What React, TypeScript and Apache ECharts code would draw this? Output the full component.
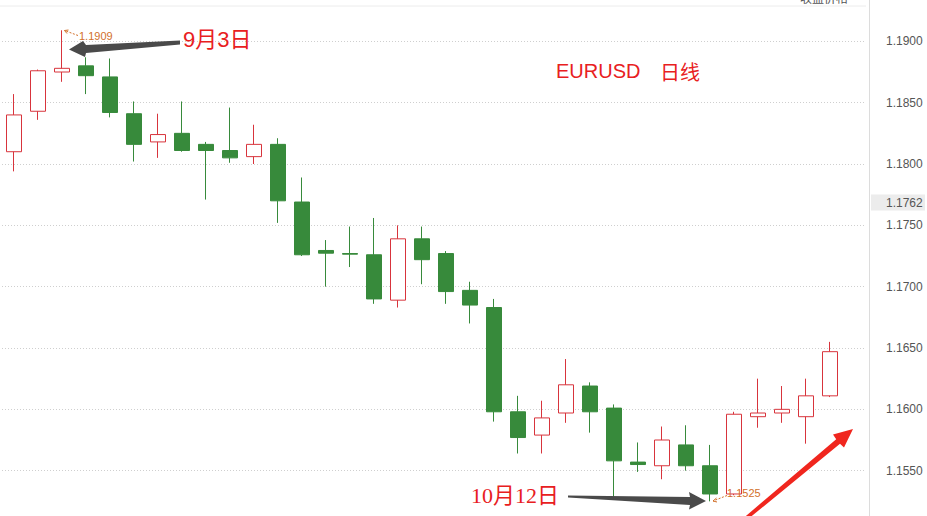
import React, { useEffect, useRef } from "react";
import * as echarts from "echarts";

const dates = [
  "2021-09-01", "2021-09-02", "2021-09-03", "2021-09-06", "2021-09-07", "2021-09-08", "2021-09-09",
  "2021-09-10", "2021-09-13", "2021-09-14", "2021-09-15", "2021-09-16", "2021-09-17", "2021-09-20",
  "2021-09-21", "2021-09-22", "2021-09-23", "2021-09-24", "2021-09-27", "2021-09-28", "2021-09-29",
  "2021-09-30", "2021-10-01", "2021-10-04", "2021-10-05", "2021-10-06", "2021-10-07", "2021-10-08",
  "2021-10-11", "2021-10-12", "2021-10-13", "2021-10-14", "2021-10-15", "2021-10-18", "2021-10-19",
  "2021-10-20",
];
const opens = [
  1.1810, 1.1843, 1.1875, 1.1880, 1.1871, 1.1841, 1.1818, 1.1825, 1.1816, 1.1811, 1.1806, 1.1816,
  1.1769, 1.17295, 1.1727, 1.1726, 1.1689, 1.1739, 1.1727, 1.1697, 1.1683, 1.1598, 1.1579, 1.1597,
  1.1619, 1.1601, 1.1557, 1.1554, 1.1571, 1.1554, 1.1531, 1.1594, 1.1597, 1.1594, 1.1611,
];
const closes = [
  1.1840, 1.1876, 1.1878, 1.1872, 1.1842, 1.1816, 1.1824, 1.1811, 1.1811, 1.1805, 1.1816, 1.1770,
  1.1726, 1.17273, 1.17265, 1.1690, 1.1739, 1.1722, 1.1696, 1.1685, 1.1598, 1.1577, 1.1593, 1.1620,
  1.1598, 1.1558, 1.1555, 1.1575, 1.1554, 1.1531, 1.1596, 1.1597, 1.1600, 1.1611, 1.1647,
];
const lows = [
  1.1794, 1.1836, 1.1867, 1.1857, 1.1838, 1.1802, 1.1805, 1.1810, 1.1771, 1.1801, 1.1800, 1.1752,
  1.1725, 1.1700, 1.1716, 1.1686, 1.1683, 1.1702, 1.1686, 1.1670, 1.1590, 1.1564, 1.1564, 1.1589,
  1.1581, 1.1528, 1.1549, 1.1543, 1.1550, 1.1525, 1.1530, 1.1585, 1.1589, 1.1572, 1.1610,
];
const highs = [
  1.1857, 1.1877, 1.1909, 1.1887, 1.1886, 1.1851, 1.1841, 1.1851, 1.1818, 1.1846, 1.1832, 1.1821,
  1.1789, 1.1738, 1.1749, 1.1756, 1.1750, 1.1749, 1.1729, 1.1704, 1.1690, 1.1611, 1.1607, 1.1641,
  1.1622, 1.1604, 1.1573, 1.1586, 1.1587, 1.1571, 1.1598, 1.1625, 1.1619, 1.1625, 1.1655,
];
const currentPrice = 1.1762;
const yMin = 1.15;
const yMax = 1.195;
const yStep = 0.005;

const RED = "#d8343c";
const GREEN = "#378a3b";
const ORANGE = "#d2702a";
const ANN_RED = "#e8201e";
const SHIFT = 20; // chart div is shifted up by this many px

export default function App() {
  const ref = useRef<HTMLDivElement>(null);

  useEffect(() => {
    if (!ref.current) return;
    const chart = echarts.init(ref.current, null, { renderer: "svg" });
    const data: any[] = dates.map((d, i) =>
      i < opens.length ? [opens[i], closes[i], lows[i], highs[i]] : "-"
    );
    const annotations: any[] = [
      {
        type: "line",
        shape: { x1: 0, y1: 6, x2: 866, y2: 6 },
        style: { stroke: "#ececec", lineWidth: 1 },
        silent: true,
      },
      {
        type: "text",
        style: { text: "收盘价格", x: 800, y: -9, fill: "#555", fontSize: 12, fontFamily: "Noto Sans CJK SC" },
      },
      {
        type: "text",
        style: {
          text: "EURUSD", x: 556, y: 71, fill: ANN_RED, fontSize: 20,
          fontFamily: "Liberation Sans, Arial, sans-serif", textVerticalAlign: "middle",
        },
      },
      {
        type: "text",
        style: {
          text: "日线", x: 660, y: 71, fill: ANN_RED, fontSize: 20,
          fontFamily: "Noto Sans CJK SC", textVerticalAlign: "middle",
        },
      },
      {
        type: "text",
        style: {
          text: "9月3日", x: 183, y: 39, fill: ANN_RED, fontSize: 22,
          fontFamily: "Liberation Sans, Noto Sans CJK SC, sans-serif", textVerticalAlign: "middle",
        },
      },
      {
        type: "text",
        style: {
          text: "10月12日", x: 471, y: 495, fill: ANN_RED, fontSize: 22,
          fontFamily: "Liberation Serif, Noto Sans CJK SC, serif", textVerticalAlign: "middle",
        },
      },
      {
        type: "polygon",
        shape: { points: [[180, 40.5], [86, 45], [83, 41], [69, 49.5], [85, 57], [86, 53], [180, 44.5]] },
        style: { fill: "#4a4a4a" },
      },
      {
        type: "polygon",
        shape: { points: [[568, 495.5], [690, 497], [689, 492], [706, 501], [689, 509.5], [690, 505], [568, 497.5]] },
        style: { fill: "#4a4a4a" },
      },
      {
        type: "polygon",
        shape: { points: [[740, 521], [836.2, 439.2], [833, 434.5], [853, 429], [844, 447.5], [840, 443.8], [742, 524]] },
        style: { fill: "#f0261e" },
      },
      {
        type: "polyline",
        shape: { points: [[78, 35.5], [64.5, 30.5]] },
        style: { stroke: ORANGE, lineWidth: 1, lineDash: [2, 1.5], fill: null },
      },
      {
        type: "polyline",
        shape: { points: [[68.5, 30], [64.5, 30.5], [67, 33.5]] },
        style: { stroke: ORANGE, lineWidth: 1, fill: null },
      },
      {
        type: "text",
        style: {
          text: "1.1909", x: 79, y: 36, fill: ORANGE, fontSize: 11,
          fontFamily: "Liberation Sans, Arial, sans-serif", textVerticalAlign: "middle",
        },
      },
      {
        type: "polyline",
        shape: { points: [[727, 495.5], [713, 501]] },
        style: { stroke: ORANGE, lineWidth: 1, lineDash: [2, 1.5], fill: null },
      },
      {
        type: "polyline",
        shape: { points: [[716.5, 498], [713, 501], [717, 502]] },
        style: { stroke: ORANGE, lineWidth: 1, fill: null },
      },
      {
        type: "text",
        style: {
          text: "1.1525", x: 727, y: 493, fill: ORANGE, fontSize: 11,
          fontFamily: "Liberation Sans, Arial, sans-serif", textVerticalAlign: "middle",
        },
      },
    ].map((el) => ({ ...el, z: 100 }));

    const baseOption: any = {
      animation: false,
      backgroundColor: "#ffffff",
      grid: {
        left: 2,
        right: 61,
        top: 0,
        bottom: 0,
        containLabel: false,
        outerBoundsMode: "none",
      },
      xAxis: {
        type: "category",
        data: dates,
        boundaryGap: true,
        axisLine: { show: false },
        axisTick: { show: false },
        axisLabel: { show: false },
        splitLine: { show: false },
      },
      yAxis: {
        type: "value",
        position: "right",
        min: yMin,
        max: yMax,
        interval: yStep,
        offset: 3,
        axisLine: { show: true, lineStyle: { color: "#dcdcdc", width: 1 } },
        axisTick: { show: false },
        axisLabel: {
          color: "#555",
          fontSize: 12,
          margin: 17,
          showMinLabel: false,
          showMaxLabel: false,
          fontFamily: "Liberation Sans, Arial, sans-serif",
          formatter: (v: number) => v.toFixed(4),
        },
        splitLine: { show: true, lineStyle: { color: "#cfcfcf", type: [1, 2], width: 1 } },
      },
      series: [
        {
          type: "candlestick",
          data,
          barWidth: 16,
          itemStyle: {
            color: "#ffffff",
            color0: GREEN,
            borderColor: RED,
            borderColor0: GREEN,
            borderWidth: 1,
          },
        },
      ],
    };
    chart.setOption(baseOption);

    // current price tag on the right axis, placed through the axis scale
    const py = chart.convertToPixel({ yAxisIndex: 0 }, currentPrice) as number;
    chart.setOption({
      graphic: [
        { type: "group", id: "ann", x: 0, y: SHIFT, children: annotations },
        {
          type: "group",
          id: "price",
          x: 0,
          y: 0,
          children: [
            {
              type: "rect",
              z: 100,
              shape: { x: 871, y: py - 16, width: 54, height: 16 },
              style: { fill: "#ececec" },
            },
            {
              type: "text",
              z: 101,
              style: {
                text: currentPrice.toFixed(4),
                x: 886,
                y: py - 8,
                fill: "#555",
                fontSize: 12,
                fontFamily: "Liberation Sans, Arial, sans-serif",
                textVerticalAlign: "middle",
              },
            },
          ],
        },
      ],
    });
    return () => chart.dispose();
  }, []);

  return (
    <div
      style={{
        position: "fixed",
        left: 0,
        top: 0,
        width: 927,
        height: 516,
        overflow: "hidden",
        background: "#fff",
      }}
    >
      <div
        ref={ref}
        style={{
          position: "absolute",
          left: 0,
          top: -SHIFT,
          width: 927,
          height: 552,
        }}
      />
    </div>
  );
}
